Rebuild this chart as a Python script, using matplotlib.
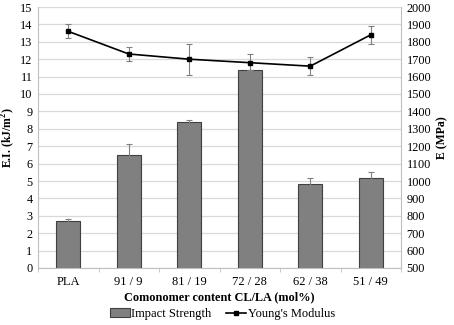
import matplotlib.pyplot as plt
import numpy as np
from matplotlib.lines import Line2D
from matplotlib.patches import Patch

plt.rcParams["font.family"] = ["Liberation Serif", "DejaVu Serif"]

categories = ["PLA", "91 / 9", "81 / 19", "72 / 28", "62 / 38", "51 / 49"]
impact_strength = [2.7, 6.5, 8.4, 11.4, 4.8, 5.2]
impact_err = [0.1, 0.6, 0.1, 0.0, 0.4, 0.3]
youngs_modulus = [1860, 1730, 1700, 1680, 1660, 1840]
modulus_err = [40, 40, 90, 50, 50, 50]

GRID = "#d9d9d9"
AXIS = "#bfbfbf"

fig = plt.figure(figsize=(4.54, 3.25), dpi=100)
ax = fig.add_axes([38 / 454, 1 - 268 / 325, 363 / 454, 261 / 325])
x = np.arange(len(categories))

ax.bar(x, impact_strength, 0.4, color="#808080", edgecolor="#404040",
       linewidth=0.8, zorder=2)
ax.errorbar(x, impact_strength, yerr=impact_err, fmt="none", ecolor="#808080",
            elinewidth=0.8, capsize=2, capthick=0.8, zorder=3)

ax.set_xlim(-0.5, len(categories) - 0.5)
ax.set_ylim(0, 15)
ax.set_yticks(range(0, 16))
ax.yaxis.grid(True, color=GRID, linewidth=0.9, zorder=0)
ax.set_axisbelow(True)
ax.set_xticks(x)
ax.set_xticklabels(categories, fontsize=9)
ax.set_xticks(np.arange(-0.5, len(categories)), minor=True)
ax.tick_params(axis="x", which="major", length=0, pad=6)
ax.tick_params(axis="x", which="minor", length=3, color=AXIS)
ax.tick_params(axis="y", length=0, labelsize=8.8, pad=4)
for side in ("top", "right"):
    ax.spines[side].set_visible(False)
ax.spines["left"].set_color(AXIS)
ax.spines["bottom"].set_color(AXIS)
ax.set_ylabel("E.I. (kJ/m$^\\mathregular{2}$)", fontsize=8.5, fontweight="bold",
              labelpad=2)
ax.set_xlabel("Comonomer content CL/LA (mol%)", fontsize=8.8, fontweight="bold",
              labelpad=2)

ax2 = ax.twinx()
ax2.errorbar(x, youngs_modulus, yerr=modulus_err, color="black", linewidth=1.2,
             marker="s", markersize=3.5, ecolor="#808080", elinewidth=0.8,
             capsize=2, capthick=0.8, zorder=4)
ax2.set_ylim(500, 2000)
ax2.set_yticks(range(500, 2001, 100))
ax2.tick_params(axis="y", length=0, labelsize=8.8, pad=4)
for side in ("top", "left", "bottom"):
    ax2.spines[side].set_visible(False)
ax2.spines["right"].set_color(AXIS)
ax2.set_ylabel("E (MPa)", fontsize=8.5, fontweight="bold", labelpad=4)

handles = [
    Patch(facecolor="#808080", edgecolor="#404040", linewidth=0.8),
    Line2D([0], [0], color="black", linewidth=1.2, marker="s", markersize=3),
]
fig.legend(handles, ["Impact Strength", "Young's Modulus"], loc="center",
           bbox_to_anchor=(0.49, 1 - 314 / 325), ncol=2, frameon=False,
           fontsize=9, handlelength=1.6, handletextpad=0.1, columnspacing=1.2)

fig.savefig("out.png", dpi=100)
